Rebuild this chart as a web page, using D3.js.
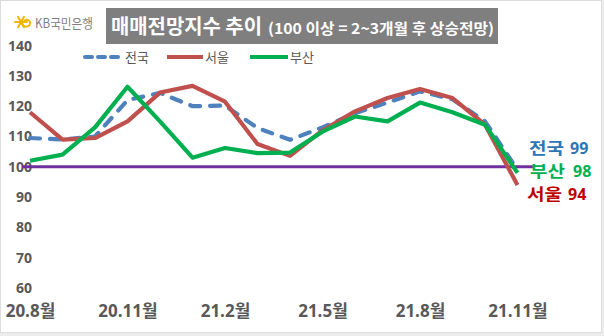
<!DOCTYPE html>
<html><head><meta charset="utf-8">
<script src="https://cdn.jsdelivr.net/npm/d3@7"></script>
<style>
html,body{margin:0;padding:0;background:#fff;}
svg{display:block;}
</style></head>
<body>
<svg id="chart" width="604" height="336"></svg>
<script>
// ---- data ----
const months = ["20.8","20.9","20.10","20.11","20.12","21.1","21.2","21.3","21.4","21.5","21.6","21.7","21.8","21.9","21.10","21.11"];
const tickMonths = ["20.8","20.11","21.2","21.5","21.8","21.11"];
const yTicks = [60,70,80,90,100,110,120,130,140];
const seriesNames = ["전국","서울","부산"];
const nationwide = [109.5,109,110,122,124.4,120,120.2,112.8,108.9,113,117.7,121.2,124.9,122.3,115,99];
const seoul      = [118,109,109.5,115,124.5,126.7,121.5,107.5,103.6,112,118.3,122.7,125.7,122.7,113.9,94];
const busan      = [102,104,113,126.4,115,103,106.2,104.5,104.7,111.6,116.6,115,121.2,118,113.9,98];
const endLabels  = ["99","94","98"];
const baseline = 100;

const svg = d3.select("#chart");
const W = 604, H = 336;

// frame
svg.append("rect").attr("x",0).attr("y",0).attr("width",W).attr("height",H).attr("fill","#ececec");
svg.append("rect").attr("x",0.5).attr("y",0.5).attr("width",601).attr("height",332)
  .attr("fill","#fff").attr("stroke","#dcdcdc").attr("stroke-width",1);

const x = d3.scalePoint().domain(months).range([30,517.5]);
const y = d3.scaleLinear().domain([60,140]).range([288,45.6]);

const labelColor = "#595959";
const numFont = "'Open Sans', 'Noto Sans CJK KR', sans-serif";

// y axis labels
const yAxis = d3.axisLeft(y).tickValues(yTicks).tickSize(0).tickPadding(0);
const gy = svg.append("g").attr("transform","translate(32,0)").call(yAxis);
gy.select(".domain").remove();
gy.selectAll("text").attr("fill",labelColor).attr("font-family",numFont)
  .attr("font-size",14).attr("font-weight",700);

// x axis labels
const xAxis = d3.axisBottom(x).tickValues(tickMonths).tickSize(0).tickPadding(0)
  .tickFormat(d => d + "월");
const gx = svg.append("g").attr("transform","translate(0,305)").call(xAxis);
gx.select(".domain").remove();
gx.selectAll("text").attr("fill",labelColor).attr("font-family",numFont)
  .attr("font-size",17).attr("font-weight",700);

// baseline 100
svg.append("line").attr("x1",22).attr("x2",533).attr("y1",y(baseline)).attr("y2",y(baseline))
  .attr("stroke","#7030a0").attr("stroke-width",3);

const colors = ["#4f81bd","#c0504d","#00b050"];
const dashes = ["10,10",null,null];
const data = [nationwide, seoul, busan];
const line = d3.line().x((d,i)=>x(months[i])).y(d=>y(d));

data.forEach((s,k)=>{
  svg.append("path").datum(s).attr("d",line).attr("fill","none")
    .attr("stroke",colors[k]).attr("stroke-width",4.2)
    .attr("stroke-linejoin","round")
    .attr("stroke-linecap", dashes[k] ? "round" : "butt")
    .attr("stroke-dasharray",dashes[k]);
});

// legend
const legX = [83,167,250];
const legW = [40,36,38];
seriesNames.forEach((n,k)=>{
  svg.append("line").attr("x1",legX[k]+(dashes[k]?2:0)).attr("x2",legX[k]+legW[k]-(dashes[k]?2:0))
    .attr("y1",57).attr("y2",57).attr("stroke",colors[k]).attr("stroke-width",4)
    .attr("stroke-linecap",dashes[k]?"round":"butt").attr("stroke-dasharray",dashes[k] ? "7,6" : null);
  svg.append("text").attr("x",legX[k]+legW[k]+2).attr("y",62).text(n)
    .attr("font-family","'Noto Sans CJK KR', sans-serif").attr("font-size",13)
    .attr("fill",labelColor);
});

// end annotations
const annColors = ["#2e75b6","#c00000","#00b050"];
const annY = [154,200,177];
const annX = [529,527,530];
const numX = [570,568,573];
seriesNames.forEach((n,k)=>{
  svg.append("text").attr("x",annX[k]).attr("y",annY[k]).text(n)
    .attr("font-family","'Noto Sans CJK KR', sans-serif").attr("font-weight",700)
    .attr("font-size",16).attr("fill",annColors[k])
    .attr("textLength",35).attr("lengthAdjust","spacingAndGlyphs");
  svg.append("text").attr("x",numX[k]).attr("y",annY[k]).text(endLabels[k])
    .attr("font-family",numFont).attr("font-weight",700)
    .attr("font-size",16).attr("fill",annColors[k]);
});

// title box
svg.append("rect").attr("x",106).attr("y",8).attr("width",392).attr("height",36).attr("fill","#7f7f7f");
svg.append("text").attr("x",111).attr("y",34).text("매매전망지수 추이")
  .attr("font-family","'Noto Sans CJK KR', sans-serif").attr("font-weight",700)
  .attr("font-size",20).attr("fill","#fff")
  .attr("textLength",151).attr("lengthAdjust","spacingAndGlyphs");
svg.append("text").attr("x",268).attr("y",34).text("(100 이상 = 2~3개월 후 상승전망)")
  .attr("font-family","'Noto Sans CJK KR', sans-serif").attr("font-weight",700)
  .attr("font-size",15).attr("fill","#fff")
  .attr("textLength",226).attr("lengthAdjust","spacingAndGlyphs");

// KB logo
const logo = svg.append("g").attr("transform","translate(21,22)").attr("stroke","#f5b400")
  .attr("stroke-width",2).attr("stroke-linecap","round").attr("fill","none");
[0,60,120].forEach(a=>{
  const r = a*Math.PI/180;
  logo.append("line").attr("x1",-6*Math.cos(r)).attr("y1",-6*Math.sin(r))
    .attr("x2",6*Math.cos(r)).attr("y2",6*Math.sin(r));
});
logo.append("path").attr("d","M1,0 C1,6 9,6 9,1 C9,-3 4,-3 3,0");
svg.append("text").attr("x",35).attr("y",28).text("KB국민은행")
  .attr("font-family","'Noto Sans CJK KR', sans-serif").attr("font-size",13)
  .attr("fill","#7f7f7f").attr("textLength",58).attr("lengthAdjust","spacingAndGlyphs");
</script>
</body></html>
